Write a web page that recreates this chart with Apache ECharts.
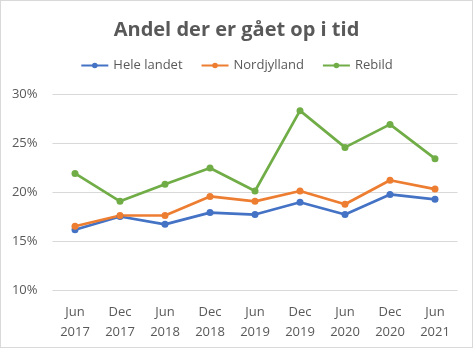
<!DOCTYPE html>
<html><head><meta charset="utf-8">
<script src="https://cdn.jsdelivr.net/npm/echarts@6/dist/echarts.min.js"></script>
<style>html,body{margin:0;padding:0;background:#fff}#c{width:473px;height:348px;box-sizing:border-box;border:1px solid #d9d9d9}</style>
</head><body><div id="c"></div>
<script>
const categories = ['Jun\n2017','Dec\n2017','Jun\n2018','Dec\n2018','Jun\n2019','Dec\n2019','Jun\n2020','Dec\n2020','Jun\n2021'];
const heleLandet = [16.15, 17.5, 16.7, 17.9, 17.7, 18.95, 17.7, 19.75, 19.25];
const nordjylland = [16.5, 17.6, 17.6, 19.55, 19.05, 20.1, 18.75, 21.2, 20.3];
const rebild = [21.9, 19.05, 20.8, 22.45, 20.1, 28.3, 24.55, 26.9, 23.4];
const seriesNames = ['Hele landet','Nordjylland','Rebild'];
const colors = ['#4472c4','#ed7d31','#70ad47'];
const font = 'Open Sans';
const chart = echarts.init(document.getElementById('c'));
const mk = (name, data, color) => ({
  name, type:'line', data, color,
  symbol:'circle', symbolSize:7,
  lineStyle:{width:2.7, color},
  itemStyle:{color},
  animation:false
});
chart.setOption({
  animation:false,
  title:{text:'Andel der er gået op i tid', left:'center', top:14,
    textStyle:{fontFamily:font, fontSize:20, fontWeight:'bold', color:'#595959'}},
  legend:{top:53, left:'center', itemWidth:27, itemHeight:7, itemGap:18,
    data:seriesNames,
    textStyle:{fontFamily:font, fontSize:13, color:'#595959'}},
  grid:{left:51.5, right:14.5, top:93, bottom:57, containLabel:false},
  xAxis:{type:'category', data:categories, boundaryGap:true,
    axisLine:{show:false}, axisTick:{show:false},
    axisLabel:{fontFamily:font, fontSize:13, color:'#595959', lineHeight:19.5, margin:13}},
  yAxis:{type:'value', min:10, max:30, interval:5,
    axisLabel:{formatter:'{value}%', fontFamily:font, fontSize:13, color:'#595959', margin:15},
    splitLine:{lineStyle:{color:'#d9d9d9', width:1}},
    axisLine:{show:false}, axisTick:{show:false}},
  series:[mk(seriesNames[0], heleLandet, colors[0]), mk(seriesNames[1], nordjylland, colors[1]), mk(seriesNames[2], rebild, colors[2])]
});
</script></body></html>
